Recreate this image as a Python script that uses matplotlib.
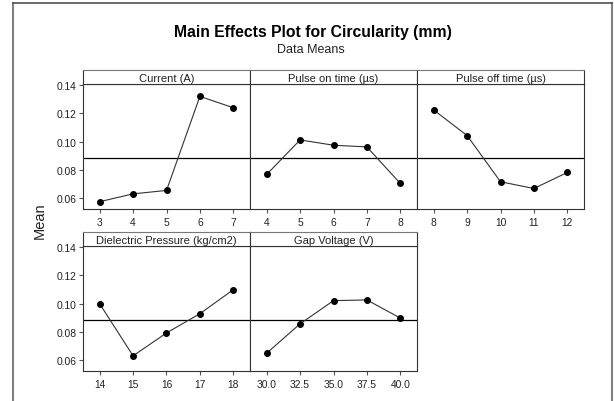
import matplotlib
matplotlib.use("Agg")
import matplotlib.pyplot as plt
from matplotlib.lines import Line2D

plt.rcParams["font.family"] = ["Liberation Sans", "DejaVu Sans"]

# factor names (strip labels)
factors = ["Current (A)", "Pulse on time (µs)", "Pulse off time (µs)",
           "Dielectric Pressure (kg/cm2)", "Gap Voltage (V)"]

# levels for each factor
current_levels = [3, 4, 5, 6, 7]
pulse_on_levels = [4, 5, 6, 7, 8]
pulse_off_levels = [8, 9, 10, 11, 12]
pressure_levels = [14, 15, 16, 17, 18]
voltage_levels = [30.0, 32.5, 35.0, 37.5, 40.0]

# mean circularity (mm) at each level
current_means = [0.0572, 0.0628, 0.0652, 0.1322, 0.1241]
pulse_on_means = [0.0766, 0.1012, 0.0974, 0.0962, 0.0702]
pulse_off_means = [0.1225, 0.1043, 0.0714, 0.0666, 0.0780]
pressure_means = [0.0998, 0.0628, 0.0791, 0.0928, 0.1099]
voltage_means = [0.0647, 0.0856, 0.1021, 0.1026, 0.0897]

grand_mean = 0.0886
y_ticks = [0.06, 0.08, 0.10, 0.12, 0.14]

W, H = 614, 402
fig = plt.figure(figsize=(W / 100, H / 100), dpi=100)


def box(l, t, r, b):
    return [l / W, 1 - b / H, (r - l) / W, (b - t) / H]


# (levels, means, x label fmt, col, row)
panels = [
    (current_levels, current_means, "{:g}", 0, 0),
    (pulse_on_levels, pulse_on_means, "{:g}", 1, 0),
    (pulse_off_levels, pulse_off_means, "{:g}", 2, 0),
    (pressure_levels, pressure_means, "{:g}", 0, 1),
    (voltage_levels, voltage_means, "{:.1f}", 1, 1),
]

col_edges = [83, 250, 417, 584]
rows = [(71, 85, 210), (233, 247, 372)]  # strip top, data top, data bottom
edge = "#333333"

for name, (levels, means, fmt, c, r) in zip(factors, panels):
    l, rr = col_edges[c], col_edges[c + 1]
    st, dt, db = rows[r]

    ax = fig.add_axes(box(l, dt, rr, db))
    step = levels[1] - levels[0]
    ax.set_xlim(levels[0] - step / 2, levels[-1] + step / 2)
    ax.set_ylim(0.052, 0.141)
    ax.axhline(grand_mean, color="black", lw=0.9)
    ax.plot(levels, means, color="#333333", lw=0.8, marker="o",
            markersize=4, markerfacecolor="black", markeredgecolor="black")

    ax.set_xticks(levels)
    ax.set_xticklabels([fmt.format(v) for v in levels])
    ax.tick_params(axis="x", direction="out", length=3, width=0.8,
                   colors="#555555", labelcolor="#222222", labelsize=7.4, pad=2.5)
    if c == 0:
        ax.set_yticks(y_ticks)
        ax.set_yticklabels(["{:.2f}".format(v) for v in y_ticks])
        ax.tick_params(axis="y", direction="out", length=3, width=0.8,
                       colors="#555555", labelcolor="#222222", labelsize=7.4, pad=1.5)
    else:
        ax.set_yticks([])
    for s in ax.spines.values():
        s.set_color(edge)
        s.set_linewidth(0.8)

    sax = fig.add_axes(box(l, st, rr, dt))
    sax.set_xticks([])
    sax.set_yticks([])
    for s in sax.spines.values():
        s.set_color(edge)
        s.set_linewidth(0.8)
    sax.spines["top"].set_color("#777777")
    sax.text(0.5, 0.45, name, transform=sax.transAxes, ha="center",
             va="center", fontsize=8, color="#222222")

fig.text(312.5 / W, 1 - 36.7 / H, "Main Effects Plot for Circularity (mm)",
         ha="center", va="baseline", fontsize=11.3, fontweight="bold")
fig.text(311 / W, 1 - 53 / H, "Data Means", ha="center", va="baseline",
         fontsize=9, color="#222222")
fig.text(40 / W, 1 - 221 / H, "Mean", ha="center", va="center",
         rotation=90, fontsize=10.5, color="#222222")

# outer frame (open at the bottom)
fig.add_artist(Line2D([12.5 / W, 12.5 / W], [0, 1 - 4 / H], color="#808080", lw=1.5))
fig.add_artist(Line2D([612 / W, 612 / W], [0, 1 - 4 / H], color="#808080", lw=1.5))
fig.add_artist(Line2D([12.5 / W, 612 / W], [1 - 4 / H, 1 - 4 / H], color="#505050", lw=1.2))

fig.savefig("out.png", dpi=100)
